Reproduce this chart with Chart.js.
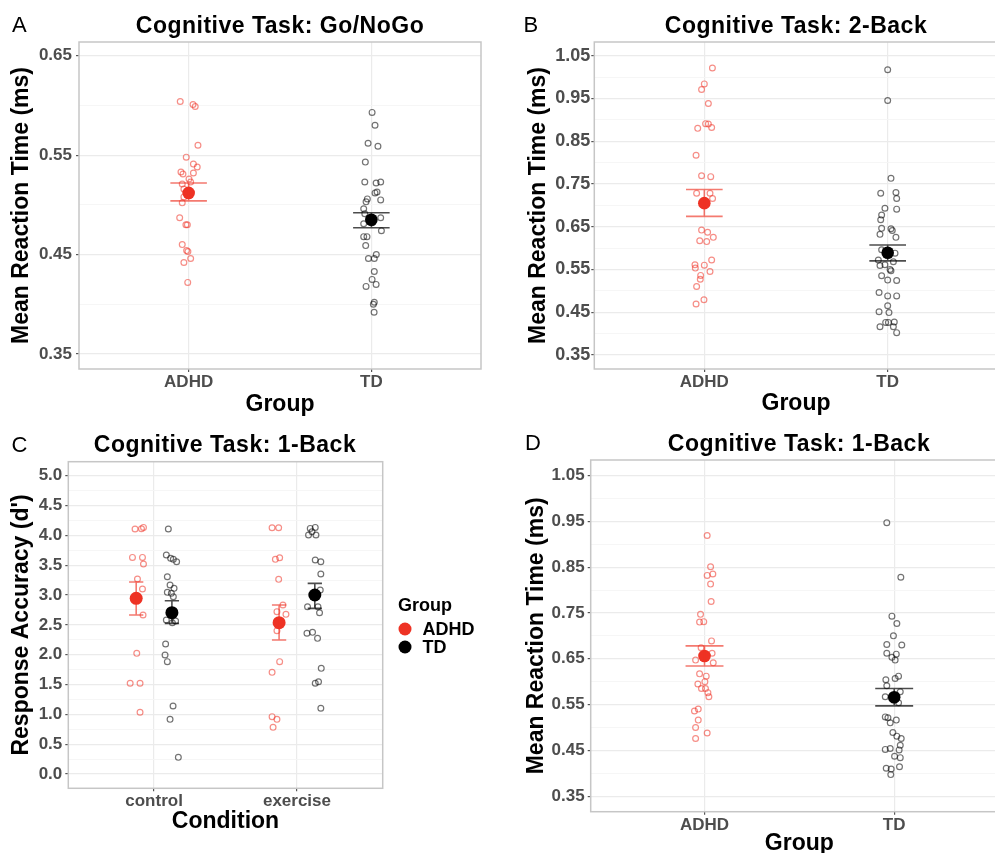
<!DOCTYPE html>
<html>
<head>
<meta charset="utf-8">
<script src="https://cdn.jsdelivr.net/npm/chart.js@4.4.1/dist/chart.umd.min.js"></script>
<style>
  html, body { margin: 0; padding: 0; background: #fff; overflow: hidden; }
  #fig { position: relative; width: 995px; height: 853px; overflow: hidden; font-family: "Liberation Sans", Arial, sans-serif; }
  canvas { position: absolute; }
  .letter { position: absolute; font-size: 22px; line-height: 1; color: #000; }
  .title { position: absolute; font-size: 23px; letter-spacing: 0.5px; font-weight: bold; line-height: 1; white-space: nowrap; transform: translate(-50%, -50%); }
  .lg { position: absolute; font-size: 18px; font-weight: bold; line-height: 1; transform: translateY(-50%); }
  .dot { position: absolute; width: 13px; height: 13px; border-radius: 50%; transform: translate(-50%, -50%); }
</style>
</head>
<body>
<div id="fig">
  <canvas id="chartA" width="495" height="420" style="left:0px;top:0px"></canvas>
  <canvas id="chartB" width="520" height="420" style="left:495px;top:0px"></canvas>
  <canvas id="chartC" width="495" height="433" style="left:0px;top:420px"></canvas>
  <canvas id="chartD" width="520" height="440" style="left:495px;top:420px"></canvas>

  <div class="letter" style="left:12px;top:14px">A</div>
  <div class="letter" style="left:523.5px;top:14px">B</div>
  <div class="letter" style="left:11.5px;top:434px">C</div>
  <div class="letter" style="left:525px;top:432px">D</div>

  <div class="title" style="left:280px;top:24.5px">Cognitive Task: Go/NoGo</div>
  <div class="title" style="left:796px;top:24.5px">Cognitive Task: 2-Back</div>
  <div class="title" style="left:225px;top:444px">Cognitive Task: 1-Back</div>
  <div class="title" style="left:799px;top:443px">Cognitive Task: 1-Back</div>

  <!-- legend for panel C -->
  <div class="lg" style="left:398px;top:605px">Group</div>
  <div class="dot" style="left:405px;top:629px;background:#ee3224"></div>
  <div class="dot" style="left:405px;top:647px;background:#000"></div>
  <div class="lg" style="left:422.5px;top:629px">ADHD</div>
  <div class="lg" style="left:422.5px;top:647px">TD</div>
</div>

<script>
// ---- data ----
const groups = ["ADHD", "TD"];
const conditions = ["control", "exercise"];

// A: Go/NoGo mean reaction time
const goNoGoAdhd = [0.604, 0.601, 0.599, 0.560, 0.548, 0.541, 0.538, 0.533, 0.531, 0.532, 0.526, 0.521, 0.523, 0.516, 0.508, 0.502, 0.487, 0.480, 0.480, 0.460, 0.454, 0.453, 0.446, 0.442, 0.422];
const goNoGoAdhdJitter = [-0.046, 0.024, 0.036, 0.051, -0.013, 0.026, 0.047, -0.042, -0.031, 0.026, 0.002, -0.035, 0.011, -0.026, -0.026, -0.035, -0.049, -0.015, -0.007, -0.035, -0.011, -0.004, 0.011, -0.026, -0.005];
const goNoGoTd = [0.593, 0.580, 0.562, 0.559, 0.543, 0.523, 0.522, 0.523, 0.512, 0.513, 0.506, 0.503, 0.505, 0.496, 0.491, 0.486, 0.487, 0.481, 0.482, 0.474, 0.468, 0.468, 0.459, 0.450, 0.446, 0.446, 0.433, 0.425, 0.420, 0.418, 0.402, 0.400, 0.392];
const goNoGoTdJitter = [0.004, 0.020, -0.018, 0.036, -0.033, -0.036, 0.026, 0.051, 0.020, 0.031, -0.022, -0.029, 0.051, -0.042, -0.036, -0.015, 0.051, -0.042, 0.004, 0.055, -0.042, -0.024, -0.031, 0.027, -0.016, 0.016, 0.016, 0.004, 0.026, -0.029, 0.016, 0.011, 0.015];
const goNoGoMean = [0.512, 0.485];
const goNoGoLow = [0.504, 0.477];
const goNoGoHigh = [0.522, 0.492];

// B: 2-Back mean reaction time
const twoBackAdhd = [1.021, 0.984, 0.971, 0.938, 0.891, 0.890, 0.880, 0.882, 0.817, 0.769, 0.767, 0.728, 0.728, 0.716, 0.642, 0.637, 0.625, 0.617, 0.615, 0.572, 0.561, 0.560, 0.553, 0.545, 0.536, 0.527, 0.510, 0.479, 0.469];
const twoBackAdhdJitter = [0.044, 0, -0.015, 0.022, 0.007, 0.022, -0.036, 0.040, -0.045, -0.015, 0.035, -0.042, 0.031, 0.045, -0.015, 0.018, 0.049, -0.025, 0.013, 0.040, -0.051, 0, -0.049, 0.031, -0.020, -0.022, -0.042, -0.002, -0.045];
const twoBackTd = [1.017, 0.945, 0.763, 0.728, 0.730, 0.716, 0.693, 0.691, 0.677, 0.666, 0.646, 0.645, 0.641, 0.632, 0.625, 0.596, 0.592, 0.588, 0.572, 0.568, 0.559, 0.561, 0.550, 0.547, 0.535, 0.525, 0.524, 0.496, 0.488, 0.488, 0.465, 0.451, 0.449, 0.426, 0.426, 0.427, 0.416, 0.416, 0.402];
const twoBackTdJitter = [0, 0, 0.018, -0.038, 0.045, 0.049, -0.015, 0.049, -0.033, -0.038, -0.033, 0.018, 0.025, -0.042, 0.045, -0.033, -0.005, 0.040, -0.051, 0.031, -0.042, -0.015, 0.013, 0.018, -0.033, 0, 0.049, -0.047, 0, 0.049, 0, -0.047, 0.007, -0.011, 0.004, 0.036, -0.042, 0.031, 0.049];
const twoBackMean = [0.705, 0.589];
const twoBackLow = [0.674, 0.570];
const twoBackHigh = [0.737, 0.607];

// C: 1-Back response accuracy (d') by condition
const accAdhdControl = [4.106, 4.112, 4.134, 3.631, 3.631, 3.520, 3.268, 3.101, 2.665, 2.022, 1.520, 1.520, 1.034];
const accAdhdControlJitter = [-0.008, 0.037, 0.051, -0.026, 0.044, 0.051, 0.009, 0.044, 0.048, 0.004, -0.042, 0.027, 0.027];
const accAdhdExercise = [4.128, 4.128, 3.598, 3.626, 3.263, 2.832, 2.721, 2.676, 2.402, 1.883, 1.704, 0.961, 0.916, 0.782];
const accAdhdExerciseJitter = [-0.049, -0.003, -0.026, 0.004, -0.003, 0.027, -0.015, 0.048, -0.015, 0.004, -0.049, -0.049, -0.015, -0.042];
const accTdControl = [4.106, 3.670, 3.615, 3.598, 3.559, 3.307, 3.168, 3.112, 3.045, 3.028, 2.972, 2.581, 2.564, 2.536, 2.179, 1.994, 1.883, 1.140, 0.916, 0.279];
const accTdControlJitter = [-0.025, -0.039, -0.009, 0.010, 0.033, -0.032, -0.013, 0.015, -0.032, -0.004, 0.010, -0.039, 0.026, 0.003, -0.044, -0.048, -0.032, 0.008, -0.013, 0.045];
const accTdExercise = [4.117, 4.134, 4.061, 4.006, 4.006, 3.587, 3.559, 3.352, 3.084, 2.804, 2.804, 2.704, 2.358, 2.374, 2.274, 1.771, 1.520, 1.547, 1.101];
const accTdExerciseJitter = [-0.032, 0.003, -0.020, -0.044, 0.008, 0.003, 0.042, 0.042, 0.038, -0.051, 0.022, 0.033, -0.055, -0.016, 0.019, 0.045, 0.003, 0.026, 0.042];
const accAdhdMean = [2.944, 2.536];
const accAdhdLow = [2.665, 2.246];
const accAdhdHigh = [3.218, 2.832];
const accTdMean = [2.704, 3.000];
const accTdLow = [2.525, 2.777];
const accTdHigh = [2.905, 3.196];

// D: 1-Back mean reaction time
const oneBackAdhd = [0.919, 0.851, 0.832, 0.835, 0.813, 0.775, 0.747, 0.730, 0.731, 0.689, 0.674, 0.662, 0.647, 0.641, 0.617, 0.612, 0.600, 0.595, 0.585, 0.585, 0.576, 0.567, 0.536, 0.540, 0.516, 0.500, 0.488, 0.476];
const oneBackAdhdJitter = [0.014, 0.032, 0.014, 0.044, 0.032, 0.035, -0.021, -0.026, -0.004, 0.037, -0.018, 0.040, -0.047, 0.046, -0.026, 0.009, 0.002, -0.035, -0.016, 0.005, 0.018, 0.023, -0.053, -0.033, -0.033, -0.047, 0.014, -0.047];
const oneBackTd = [0.947, 0.828, 0.743, 0.727, 0.700, 0.681, 0.680, 0.662, 0.660, 0.653, 0.647, 0.612, 0.604, 0.607, 0.591, 0.578, 0.567, 0.554, 0.523, 0.521, 0.516, 0.510, 0.489, 0.481, 0.476, 0.461, 0.454, 0.452, 0.451, 0.437, 0.434, 0.414, 0.411, 0.409, 0.397];
const oneBackTdJitter = [-0.039, 0.035, -0.012, 0.014, -0.004, -0.039, 0.040, -0.039, 0.011, -0.012, 0.005, 0.023, -0.044, 0.005, -0.039, 0.032, -0.047, 0.023, -0.047, -0.033, 0.011, -0.021, -0.007, 0.014, 0.037, 0.032, -0.021, -0.047, 0.026, 0.002, 0.032, 0.028, -0.042, -0.016, -0.018];
const oneBackMean = [0.656, 0.566];
const oneBackLow = [0.634, 0.547];
const oneBackHigh = [0.678, 0.585];

// tick labels
const rtTicksA = [0.35, 0.45, 0.55, 0.65];
const rtTicks = [0.35, 0.45, 0.55, 0.65, 0.75, 0.85, 0.95, 1.05];
const accTicks = [0.0, 0.5, 1.0, 1.5, 2.0, 2.5, 3.0, 3.5, 4.0, 4.5, 5.0];

// ---- style ----
const FONT = "Liberation Sans";
const RED = "#ee3224";
const RED_PT = "rgba(238,50,36,0.55)";
const RED_BAR = "rgba(238,50,36,0.65)";
const BLACK = "#000000";
const BLACK_PT = "rgba(0,0,0,0.55)";
const BLACK_BAR = "rgba(0,0,0,0.7)";

Chart.defaults.font.family = FONT;

// grey frame round the plot panel
const frame = {
  id: "frame",
  afterDraw(chart) {
    const a = chart.chartArea;
    const ctx = chart.ctx;
    ctx.save();
    ctx.strokeStyle = "#c6c6c6";
    ctx.lineWidth = 1.5;
    ctx.strokeRect(a.left, a.top, a.right - a.left, a.bottom - a.top);
    ctx.restore();
  },
};

function makePanel(p) {
  const datasets = [];
  p.series.forEach((s) => {
    // raw jittered points
    const pts = [];
    s.values.forEach((vals, ci) => {
      vals.forEach((v, i) => pts.push({ x: ci + 1 + s.dodge + s.jitter[ci][i], y: v }));
    });
    datasets.push({
      type: "scatter", data: pts, order: 3,
      pointRadius: 2.9, borderWidth: 1.2,
      borderColor: s.ptColor, backgroundColor: "rgba(0,0,0,0)",
    });
    // group mean
    datasets.push({
      type: "scatter", order: 2,
      data: s.mean.map((m, ci) => ({ x: ci + 1 + s.dodge, y: m })),
      pointRadius: p.meanR, borderWidth: 0, backgroundColor: s.color,
    });
    // error bars: top cap, stem, bottom cap (null breaks the line)
    const bars = [];
    s.mean.forEach((m, ci) => {
      const cx = ci + 1 + s.dodge;
      bars.push(
        { x: cx - p.cap, y: s.high[ci] }, { x: cx + p.cap, y: s.high[ci] }, { x: cx, y: null },
        { x: cx, y: s.high[ci] }, { x: cx, y: s.low[ci] }, { x: cx, y: null },
        { x: cx - p.cap, y: s.low[ci] }, { x: cx + p.cap, y: s.low[ci] }, { x: cx, y: null }
      );
    });
    datasets.push({
      type: "line", data: bars, order: 1,
      borderColor: s.barColor, borderWidth: 1.6,
      pointRadius: 0, spanGaps: false, fill: false, tension: 0,
    });
  });

  // major ticks labelled, minor grid halfway between
  const yTicks = [];
  p.yMajor.forEach((v, i) => {
    yTicks.push({ value: v, isMajor: true });
    if (i < p.yMajor.length - 1) yTicks.push({ value: (v + p.yMajor[i + 1]) / 2, isMajor: false });
  });
  const isMaj = (c) => c.tick && c.tick.isMajor;

  return new Chart(document.getElementById(p.id), {
    type: "scatter",
    data: { datasets },
    options: {
      responsive: false,
      animation: false,
      devicePixelRatio: 1,
      events: [],
      layout: { padding: { left: 0, top: p.area.top, right: p.w - p.area.right, bottom: 0 } },
      plugins: { legend: { display: false }, tooltip: { enabled: false } },
      scales: {
        x: {
          type: "linear", min: 0.4, max: 2.6,
          afterBuildTicks: (sc) => { sc.ticks = p.xLabels.map((l, i) => ({ value: i + 1 })); },
          afterFit: (sc) => { sc.height = p.h - p.area.bottom; },
          grid: { color: "#ebebeb", lineWidth: 1.2, tickLength: 3, tickColor: "#555" },
          border: { display: false },
          ticks: {
            autoSkip: false, maxRotation: 0, padding: 0, color: "#4d4d4d",
            font: { size: 17, weight: "bold" },
            callback: (v, i) => p.xLabels[i],
          },
          title: {
            display: true, text: p.xTitle, color: "#000",
            font: { size: 23, weight: "bold" }, padding: { top: 0, bottom: p.xTitleOff },
          },
        },
        y: {
          type: "linear", min: p.yMin, max: p.yMax,
          afterBuildTicks: (sc) => { sc.ticks = yTicks.map((t) => ({ ...t })); },
          afterFit: (sc) => { sc.width = p.area.left; },
          grid: {
            color: (c) => (isMaj(c) ? "#ebebeb" : "#f5f5f5"),
            lineWidth: (c) => (isMaj(c) ? 1.2 : 0.9),
            tickLength: 3,
            tickColor: (c) => (isMaj(c) ? "#555" : "rgba(0,0,0,0)"),
          },
          border: { display: false },
          ticks: {
            autoSkip: false, padding: p.yPad, color: "#4d4d4d",
            font: { size: p.yFont, weight: "bold" },
            callback: (v, i, ticks) => (ticks[i].isMajor ? v.toFixed(p.dec) : ""),
          },
          title: {
            display: true, text: p.yTitle, color: "#000",
            font: { size: 23, weight: "bold" }, padding: { top: p.yTitleOff, bottom: 0 },
          },
        },
      },
    },
    plugins: [frame],
  });
}

const adhdStyle = { color: RED, ptColor: RED_PT, barColor: RED_BAR };
const tdStyle = { color: BLACK, ptColor: BLACK_PT, barColor: BLACK_BAR };

// A
makePanel({
  id: "chartA", w: 495, h: 420,
  area: { left: 79, top: 42, right: 481, bottom: 369 },
  yMin: 0.3349, yMax: 0.6638, yMajor: rtTicksA, dec: 2, yFont: 17, yPad: 4,
  yTitle: "Mean Reaction Time (ms)", yTitleOff: 8, xTitle: "Group", xTitleOff: 2,
  xLabels: groups, cap: 0.1, meanR: 6.3,
  series: [
    { ...adhdStyle, dodge: 0, values: [goNoGoAdhd, []], jitter: [goNoGoAdhdJitter, []], mean: [goNoGoMean[0]], low: [goNoGoLow[0]], high: [goNoGoHigh[0]] },
    { ...tdStyle, dodge: 1, values: [goNoGoTd], jitter: [goNoGoTdJitter], mean: [goNoGoMean[1]], low: [goNoGoLow[1]], high: [goNoGoHigh[1]] },
  ],
});

// B
makePanel({
  id: "chartB", w: 520, h: 420,
  area: { left: 99.3, top: 42, right: 502.7, bottom: 369 },
  yMin: 0.317, yMax: 1.082, yMajor: rtTicks, dec: 2, yFont: 18, yPad: 1,
  yTitle: "Mean Reaction Time (ms)", yTitleOff: 30, xTitle: "Group", xTitleOff: 3,
  xLabels: groups, cap: 0.1, meanR: 6.3,
  series: [
    { ...adhdStyle, dodge: 0, values: [twoBackAdhd], jitter: [twoBackAdhdJitter], mean: [twoBackMean[0]], low: [twoBackLow[0]], high: [twoBackHigh[0]] },
    { ...tdStyle, dodge: 1, values: [twoBackTd], jitter: [twoBackTdJitter], mean: [twoBackMean[1]], low: [twoBackLow[1]], high: [twoBackHigh[1]] },
  ],
});

// C
makePanel({
  id: "chartC", w: 495, h: 433,
  area: { left: 68.3, top: 41.7, right: 382.7, bottom: 368.3 },
  yMin: -0.24, yMax: 5.235, yMajor: accTicks, dec: 1, yFont: 17, yPad: 3,
  yTitle: "Response Accuracy (d')", yTitleOff: 8, xTitle: "Condition", xTitleOff: 17.5,
  xLabels: conditions, cap: 0.05, meanR: 6.5,
  series: [
    { ...adhdStyle, dodge: -0.125, values: [accAdhdControl, accAdhdExercise], jitter: [accAdhdControlJitter, accAdhdExerciseJitter], mean: accAdhdMean, low: accAdhdLow, high: accAdhdHigh },
    { ...tdStyle, dodge: 0.125, values: [accTdControl, accTdExercise], jitter: [accTdControlJitter, accTdExerciseJitter], mean: accTdMean, low: accTdLow, high: accTdHigh },
  ],
});

// D
makePanel({
  id: "chartD", w: 520, h: 440,
  area: { left: 95.7, top: 40, right: 513, bottom: 391.7 },
  yMin: 0.316, yMax: 1.084, yMajor: rtTicks, dec: 2, yFont: 17, yPad: 3,
  yTitle: "Mean Reaction Time (ms)", yTitleOff: 28, xTitle: "Group", xTitleOff: 3,
  xLabels: groups, cap: 0.1, meanR: 6.3,
  series: [
    { ...adhdStyle, dodge: 0, values: [oneBackAdhd], jitter: [oneBackAdhdJitter], mean: [oneBackMean[0]], low: [oneBackLow[0]], high: [oneBackHigh[0]] },
    { ...tdStyle, dodge: 1, values: [oneBackTd], jitter: [oneBackTdJitter], mean: [oneBackMean[1]], low: [oneBackLow[1]], high: [oneBackHigh[1]] },
  ],
});
</script>
</body>
</html>
